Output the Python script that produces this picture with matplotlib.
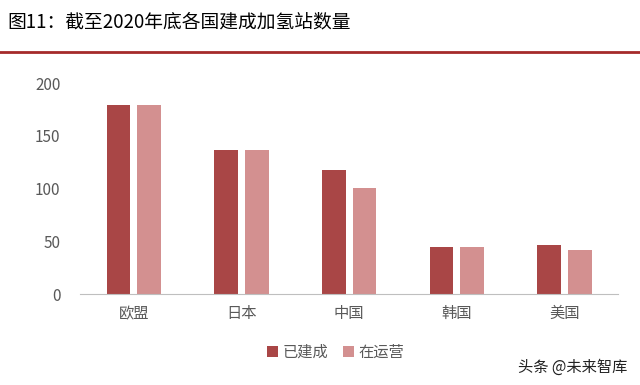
import matplotlib.pyplot as plt
import numpy as np

plt.rcParams['font.family'] = ['Noto Sans CJK SC', 'DejaVu Sans']

countries = ['欧盟', '日本', '中国', '韩国', '美国']
built = [179, 137, 118, 45, 47]
operating = [179, 137, 101, 45, 42]
series_names = ['已建成', '在运营']

c_dark = '#A94646'
c_light = '#D39090'

fig = plt.figure(figsize=(6.4, 3.85), dpi=100)
ax = fig.add_axes([0.125, 0.236, 0.841, 0.548])

x = np.arange(len(countries))
w = 0.22
gap = 0.065
ax.bar(x - (w + gap) / 2, built, w, color=c_dark, label=series_names[0])
ax.bar(x + (w + gap) / 2, operating, w, color=c_light, label=series_names[1])

ax.set_xlim(-0.5, len(countries) - 0.5)
ax.set_ylim(0, 200)
ax.set_yticks([0, 50, 100, 150, 200])
ax.set_xticks(x)
ax.set_xticklabels(countries, fontsize=11, color='#595959')
ax.tick_params(axis='y', labelsize=11, labelcolor='#595959', length=0, pad=14)
ax.tick_params(axis='x', length=0, pad=8)
for s in ['top', 'right', 'left']:
    ax.spines[s].set_visible(False)
ax.spines['bottom'].set_color('#BFBFBF')

ax.legend(loc='upper center', bbox_to_anchor=(0.475, -0.17), ncol=2, frameon=False,
          fontsize=11, handlelength=0.7, handleheight=0.7, handletextpad=0.3,
          columnspacing=1.0, labelcolor='#595959')

fig.text(0.012, 0.942, '图11：截至2020年底各国建成加氢站数量', fontsize=13.5,
         color='black', va='center', ha='left')
fig.add_artist(plt.Line2D([0, 1], [0.865, 0.865], color='#A52A2A', lw=2))
fig.text(0.98, 0.045, '头条 @未来智库', fontsize=11, color='#222222', ha='right', va='center')

fig.savefig('out.png', dpi=100)
